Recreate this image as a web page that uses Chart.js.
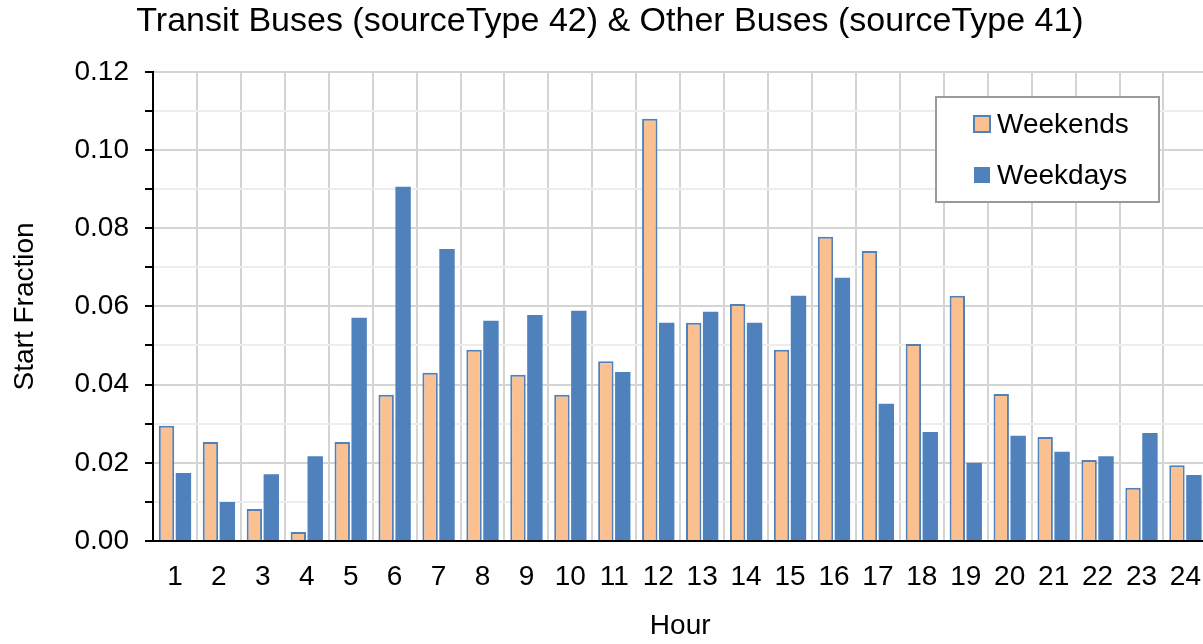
<!DOCTYPE html>
<html>
<head>
<meta charset="utf-8">
<script src="https://cdn.jsdelivr.net/npm/chart.js@4.4.1/dist/chart.umd.min.js"></script>
<style>
  html, body { margin: 0; padding: 0; background: #fff; overflow: hidden; }
  /* the reference crops the plot at its right edge, so the canvas runs past the window */
  #wrap { width: 1220px; height: 644px; }
</style>
</head>
<body>
<div id="wrap"><canvas id="chart"></canvas></div>
<script>
const hours = ['1','2','3','4','5','6','7','8','9','10','11','12',
  '13','14','15','16','17','18','19','20','21','22','23','24'];
const weekends = [0.0295, 0.0253, 0.0082, 0.0023, 0.0253, 0.0374, 0.0430, 0.0489,
  0.0425, 0.0374, 0.0460, 0.1080, 0.0558, 0.0606, 0.0489, 0.0778,
  0.0742, 0.0504, 0.0627, 0.0376, 0.0266, 0.0207, 0.0136, 0.0194];
const weekdays = [0.0174, 0.0100, 0.0171, 0.0217, 0.0571, 0.0906, 0.0747, 0.0563,
  0.0578, 0.0589, 0.0432, 0.0558, 0.0586, 0.0558, 0.0627, 0.0673,
  0.0351, 0.0279, 0.0200, 0.0269, 0.0228, 0.0217, 0.0276, 0.0169];

const FONT = "'Liberation Sans', Arial, sans-serif";
const BLUE = '#4F81BD';
const ORANGE = '#FAC08F';

// legend box drawn inside the plot, Excel style
const boxLegend = {
  id: 'boxLegend',
  afterDraw(chart) {
    const c = chart.ctx;
    const x = 936, y = 97, w = 223, h = 105;
    c.save();
    c.fillStyle = '#fff';
    c.fillRect(x, y, w, h);
    c.strokeStyle = '#9a9a9a';
    c.lineWidth = 2;
    c.strokeRect(x, y, w, h);
    c.font = '28px ' + FONT;
    c.textBaseline = 'middle';
    chart.data.datasets.forEach((ds, i) => {
      const cy = 124 + i * 51;
      c.fillStyle = ds.backgroundColor;
      c.fillRect(974, cy - 8, 16, 16);
      if (ds.borderWidth) {
        c.strokeStyle = ds.borderColor;
        c.lineWidth = 2;
        c.strokeRect(974, cy - 8, 16, 16);
      }
      c.fillStyle = '#000';
      c.fillText(ds.label, 997, cy + 1);
    });
    c.restore();
  }
};

new Chart(document.getElementById('chart').getContext('2d'), {
  type: 'bar',
  data: {
    labels: hours,
    datasets: [
      { label: 'Weekends', data: weekends, backgroundColor: ORANGE,
        borderColor: BLUE, borderWidth: 2 },
      { label: 'Weekdays', data: weekdays, backgroundColor: BLUE,
        borderColor: BLUE, borderWidth: 0 }
    ]
  },
  options: {
    responsive: true,
    maintainAspectRatio: false,
    animation: false,
    layout: { padding: 0 },
    datasets: { bar: { categoryPercentage: 0.77, barPercentage: 0.91 } },
    plugins: {
      legend: { display: false },
      tooltip: { enabled: false },
      title: {
        display: true,
        text: 'Transit Buses (sourceType 42) & Other Buses (sourceType 41)',
        color: '#000',
        font: { family: FONT, size: 34, weight: 'normal' },
        padding: { top: 1, bottom: 30 }
      }
    },
    scales: {
      x: {
        afterFit(scale) { scale.height = 103; },
        grid: { color: '#d4d4d4', lineWidth: 2, drawTicks: false, offset: true },
        border: { color: '#000', width: 2 },
        ticks: { color: '#000', padding: 19, font: { family: FONT, size: 28 } },
        title: { display: true, text: 'Hour', color: '#000',
          font: { family: FONT, size: 28 }, padding: { top: 1, bottom: 1 } }
      },
      y: {
        min: 0,
        max: 0.12,
        afterFit(scale) { scale.width = 153; },
        grid: {
          lineWidth: 2,
          tickLength: 8,
          tickColor: '#000',
          tickWidth: 2,
          color: ctx => Math.round(ctx.tick.value * 100) % 2 === 0 ? '#d4d4d4' : '#ededed'
        },
        border: { color: '#000', width: 2 },
        ticks: {
          stepSize: 0.01,
          color: '#000',
          padding: 16,
          font: { family: FONT, size: 28 },
          callback: v => Math.round(v * 100) % 2 === 0 ? v.toFixed(2) : ''
        },
        title: { display: true, text: 'Start Fraction', color: '#000',
          font: { family: FONT, size: 28 }, padding: { top: 8, bottom: 8 } }
      }
    }
  },
  plugins: [boxLegend]
});
</script>
</body>
</html>
